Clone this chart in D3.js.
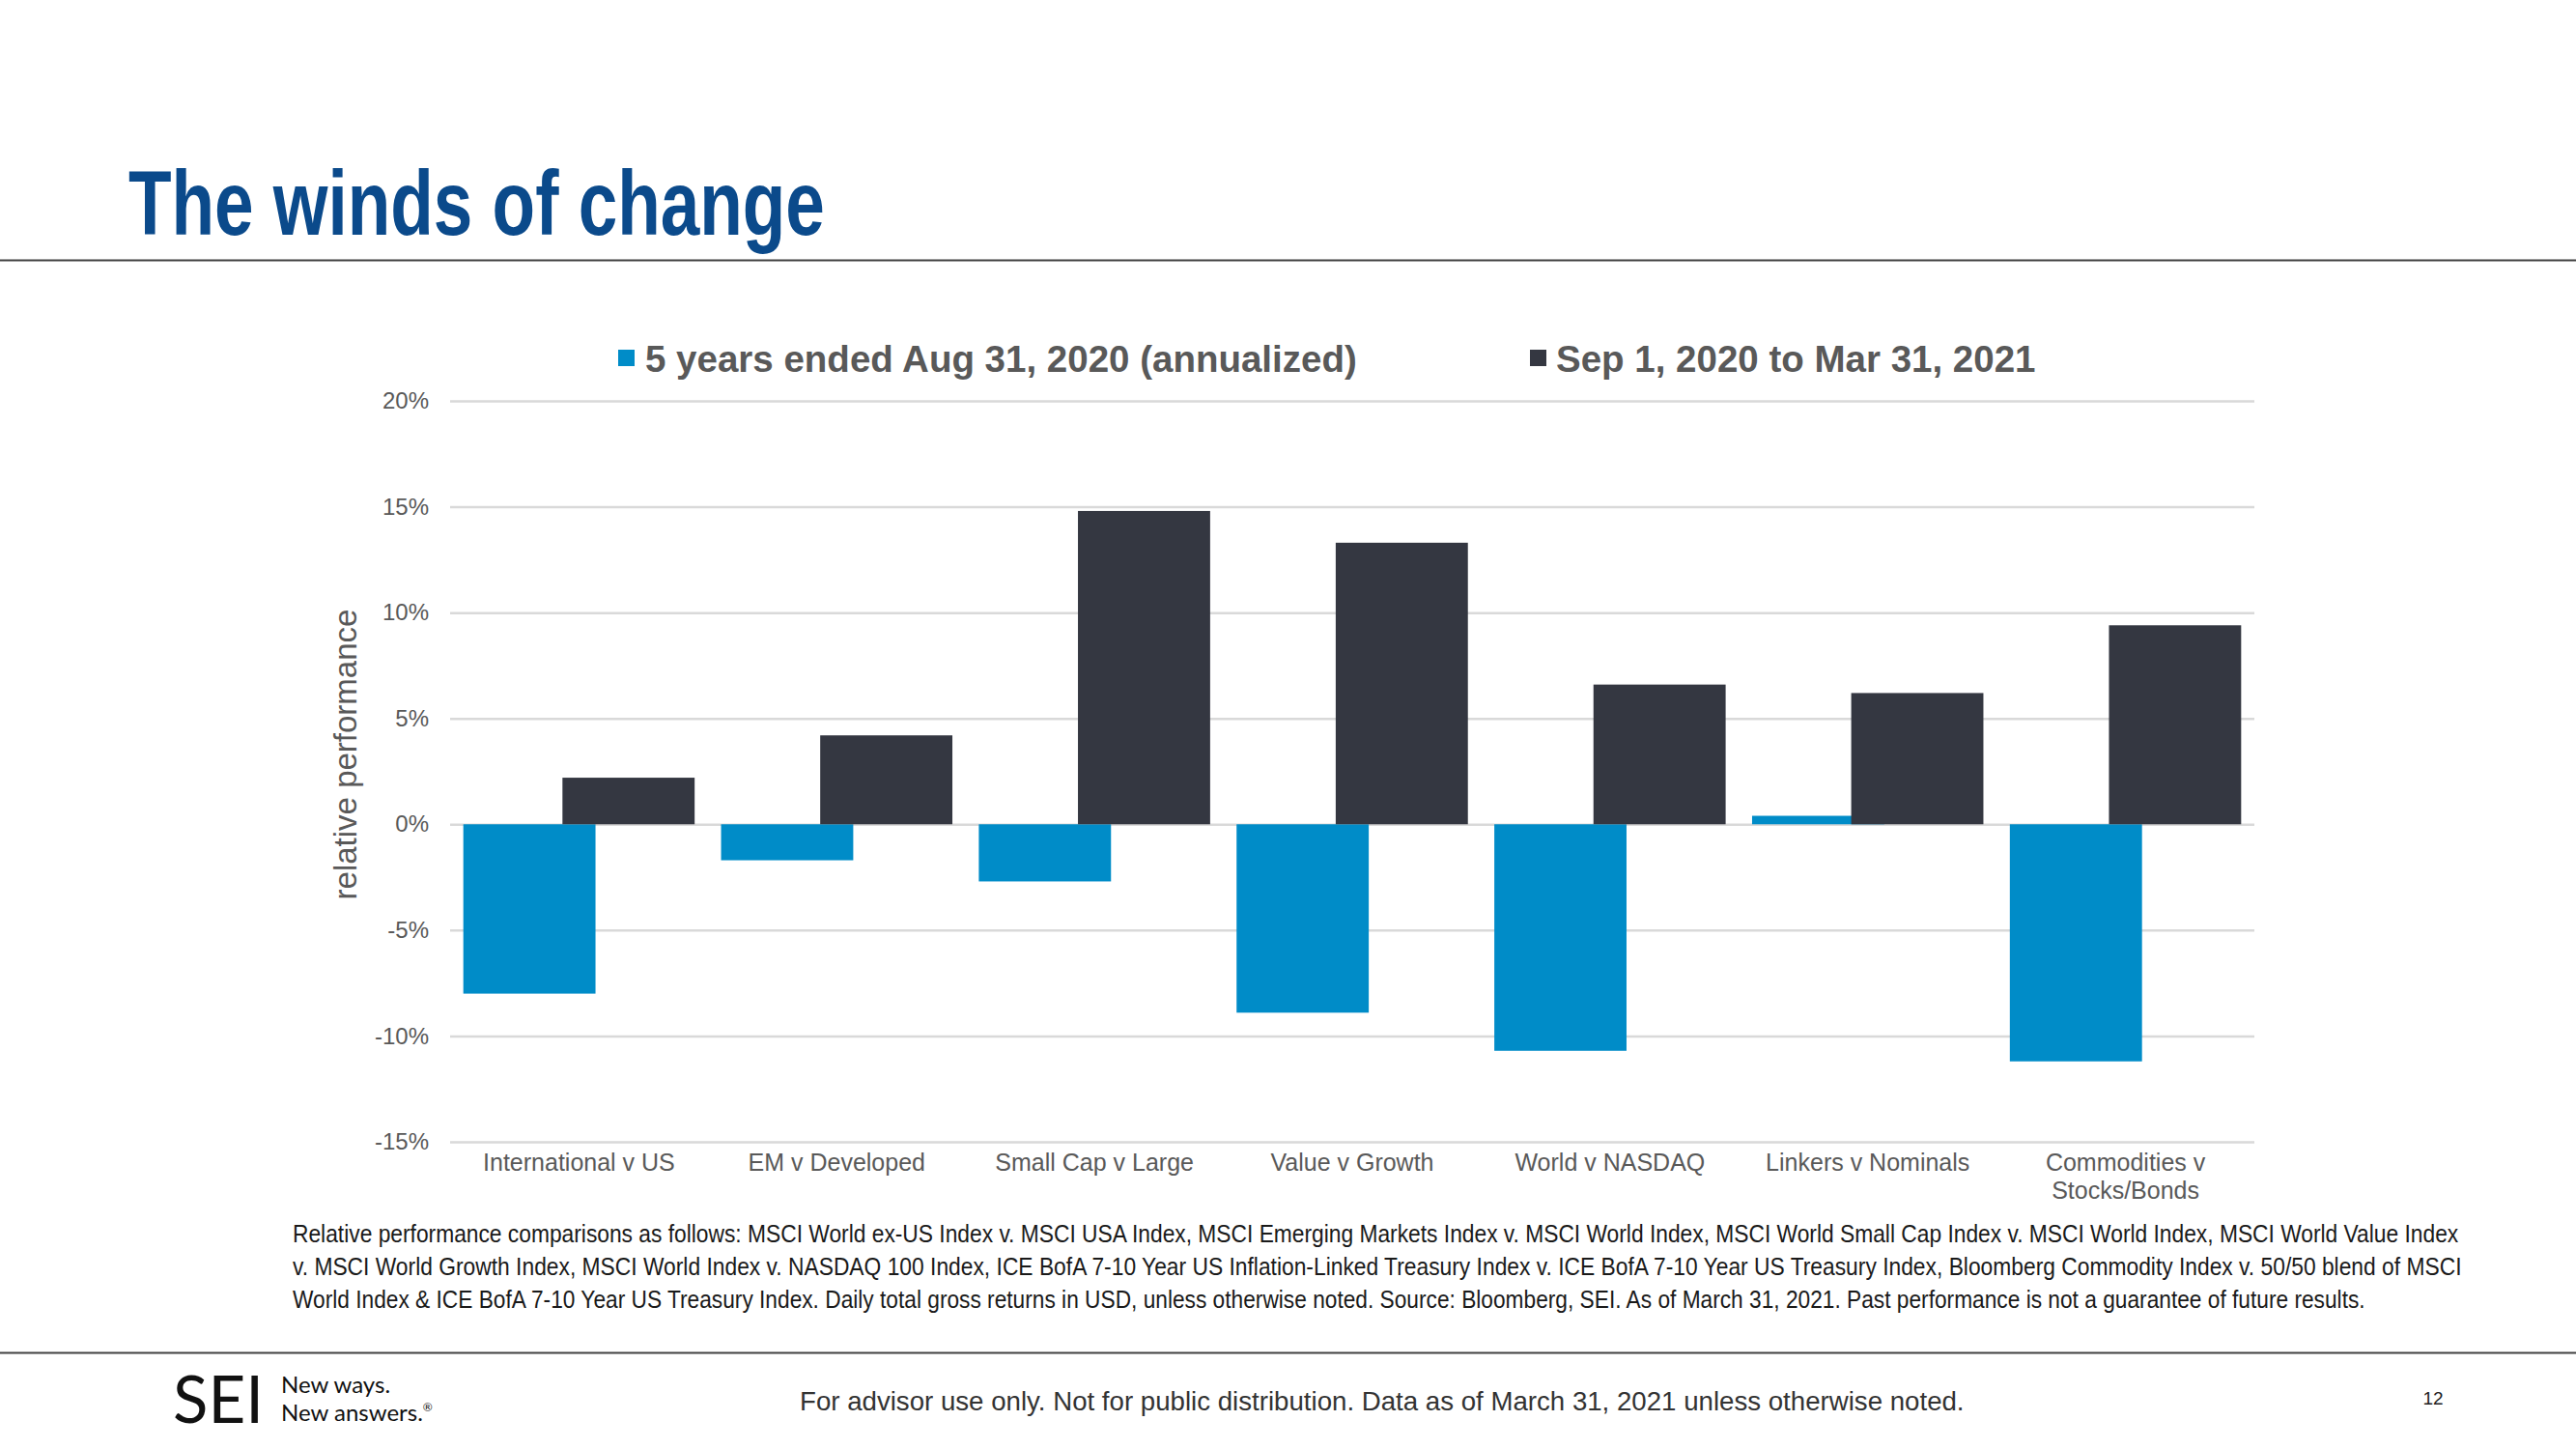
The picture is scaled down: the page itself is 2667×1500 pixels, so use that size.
<!DOCTYPE html>
<html>
<head>
<meta charset="utf-8">
<script src="https://cdn.jsdelivr.net/npm/d3@7"></script>
<style>
  html, body { margin: 0; padding: 0; background: #ffffff; }
  svg { display: block; }
</style>
</head>
<body>
<svg id="chart" width="2667" height="1500"></svg>
<script>
// ---------- data ----------
const categories = ["International v US", "EM v Developed", "Small Cap v Large", "Value v Growth",
                    "World v NASDAQ", "Linkers v Nominals", "Commodities v Stocks/Bonds"];
const seriesNames = ["5 years ended Aug 31, 2020 (annualized)", "Sep 1, 2020 to Mar 31, 2021"];
const fiveYear = [-8.0, -1.7, -2.7, -8.9, -10.7, 0.4, -11.2];
const sinceSep = [2.2, 4.2, 14.8, 13.3, 6.6, 6.2, 9.4];
const yTicks = [-15, -10, -5, 0, 5, 10, 15, 20];
const titleText = "The winds of change";
const yAxisTitle = "relative performance";
const footnoteLines = [
  "Relative performance comparisons as follows: MSCI World ex-US Index v. MSCI USA Index, MSCI Emerging Markets Index v. MSCI World Index, MSCI World Small Cap Index v. MSCI World Index, MSCI World Value Index",
  "v. MSCI World Growth Index, MSCI World Index v. NASDAQ 100 Index, ICE BofA 7-10 Year US Inflation-Linked Treasury Index v. ICE BofA 7-10 Year US Treasury Index, Bloomberg Commodity Index v. 50/50 blend of MSCI",
  "World Index & ICE BofA 7-10 Year US Treasury Index. Daily total gross returns in USD, unless otherwise noted. Source: Bloomberg, SEI. As of March 31, 2021. Past performance is not a guarantee of future results."
];
const footerText = "For advisor use only. Not for public distribution. Data as of March 31, 2021 unless otherwise noted.";
const pageNumber = "12";

// ---------- layout ----------
const W = 2667, H = 1500;
const plot = { left: 466, right: 2334, top: 415, bottom: 1182 };
const colors = ["#008CC8", "#343741"];
const gray = "#595959";
const sans = "'Liberation Sans', Arial, Helvetica, sans-serif";

const svg = d3.select("#chart");

// draw a horizontally condensed text (narrow typeface look) fitting a target width
function condensedText(px, py, str, target, attrs) {
  const t = svg.append("text").attr("x", 0).attr("y", 0);
  Object.entries(attrs).forEach(([k, v]) => t.attr(k, v));
  t.text(str);
  const len = t.node().getComputedTextLength();
  const sx = len > 0 ? target / len : 1;
  t.attr("transform", `translate(${px},${py}) scale(${sx.toFixed(4)},1)`);
  return t;
}
function fitWidth(sel, target) {
  const fs = +sel.attr("font-size");
  const len = sel.node().getComputedTextLength();
  if (len > 0) sel.attr("font-size", (fs * target / len).toFixed(2));
}

// Title
condensedText(133, 243, titleText, 721, {
  "font-family": sans, "font-weight": "bold", "font-size": 95, "fill": "#0B4A8B"
});

// rules
svg.append("line").attr("x1", 0).attr("x2", W).attr("y1", 269.5).attr("y2", 269.5)
  .attr("stroke", "#404040").attr("stroke-width", 2);
svg.append("line").attr("x1", 0).attr("x2", W).attr("y1", 1400.5).attr("y2", 1400.5)
  .attr("stroke", "#404040").attr("stroke-width", 2);

// Scales
const x = d3.scaleBand().domain(categories).range([plot.left, plot.right]).paddingInner(0).paddingOuter(0);
const y = d3.scaleLinear().domain([-15, 20]).range([plot.bottom, plot.top]);

const gapWidth = 0.20, overlap = 0.25;
const barW = x.bandwidth() / (2 - overlap + gapWidth);
const step = barW * (1 - overlap);
const groupStart = gapWidth * barW / 2;

// Gridlines + y labels
const yAxis = d3.axisLeft(y)
  .tickValues(yTicks)
  .tickFormat(d => d + "%")
  .tickSize(-(plot.right - plot.left))
  .tickPadding(22);
const gy = svg.append("g").attr("transform", `translate(${plot.left},0)`).call(yAxis);
gy.select(".domain").remove();
gy.selectAll(".tick line").attr("stroke", "#D9D9D9").attr("stroke-width", 2.5);
gy.selectAll(".tick text").attr("font-family", sans).attr("font-size", 24).attr("fill", gray);

// Y axis title
svg.append("text")
  .attr("transform", `translate(369,781) rotate(-90)`)
  .attr("text-anchor", "middle")
  .attr("font-family", sans).attr("font-size", 33).attr("fill", gray)
  .text(yAxisTitle);

// Bars
const series = [fiveYear, sinceSep];
series.forEach((vals, si) => {
  svg.append("g").selectAll("rect")
    .data(vals.map((v, i) => ({ v, c: categories[i] })))
    .join("rect")
    .attr("x", d => x(d.c) + groupStart + si * step)
    .attr("width", barW)
    .attr("y", d => y(Math.max(0, d.v)))
    .attr("height", d => Math.abs(y(d.v) - y(0)))
    .attr("fill", colors[si]);
});

// Category labels
const xAxis = d3.axisBottom(x).tickSize(0).tickPadding(0);
const gx = svg.append("g").attr("transform", `translate(0,${plot.bottom})`).call(xAxis);
gx.select(".domain").remove();
gx.selectAll(".tick text")
  .attr("font-family", sans).attr("font-size", 25).attr("fill", gray)
  .attr("y", 30).attr("dy", 0)
  .each(function () {
    const t = d3.select(this);
    const words = t.text().split(" ");
    t.text(null);
    const maxW = x.bandwidth() * 0.92;
    let line = [], lineNo = 0;
    let tspan = t.append("tspan").attr("x", 0).attr("y", 30);
    words.forEach(w => {
      line.push(w);
      tspan.text(line.join(" "));
      if (tspan.node().getComputedTextLength() > maxW && line.length > 1) {
        line.pop();
        tspan.text(line.join(" "));
        line = [w];
        lineNo++;
        tspan = t.append("tspan").attr("x", 0).attr("y", 30 + lineNo * 29).text(w);
      }
    });
  });

// Legend
const legendPos = [{ sx: 640, tx: 668 }, { sx: 1584, tx: 1611 }];
seriesNames.forEach((name, i) => {
  svg.append("rect").attr("x", legendPos[i].sx).attr("y", 362).attr("width", 17).attr("height", 17)
    .attr("fill", colors[i]);
  svg.append("text").attr("x", legendPos[i].tx).attr("y", 385)
    .attr("font-family", sans).attr("font-weight", "bold").attr("font-size", 38.5).attr("fill", gray)
    .text(name);
});

// Footnote (narrow typeface look)
const fnWidths = [2244, 2247, 2147];
footnoteLines.forEach((l, i) => {
  condensedText(303, 1286 + i * 34, l, fnWidths[i], {
    "font-family": sans, "font-size": 25, "fill": "#1a1a1a"
  });
});

// Footer
svg.append("text").attr("x", 179).attr("y", 1473)
  .attr("font-family", "Lato, 'Liberation Sans', sans-serif").attr("font-weight", 400)
  .attr("font-size", 68).attr("fill", "#111")
  .attr("textLength", 94).attr("lengthAdjust", "spacingAndGlyphs")
  .text("SEI");
svg.append("text").attr("x", 291).attr("y", 1442)
  .attr("font-family", "Lato, 'Liberation Sans', sans-serif").attr("font-size", 24).attr("fill", "#111")
  .text("New ways.");
const na = svg.append("text").attr("x", 291).attr("y", 1471)
  .attr("font-family", "Lato, 'Liberation Sans', sans-serif").attr("font-size", 24).attr("fill", "#111")
  .text("New answers.");
na.append("tspan").attr("font-size", 12).attr("dy", -10).text("®");

const foot = svg.append("text").attr("x", 828).attr("y", 1460)
  .attr("font-family", sans).attr("font-size", 26).attr("fill", "#333")
  .text(footerText);
fitWidth(foot, 1206);

svg.append("text").attr("x", 2519).attr("y", 1454).attr("text-anchor", "middle")
  .attr("font-family", sans).attr("font-size", 19).attr("fill", "#222")
  .text(pageNumber);
</script>
</body>
</html>
